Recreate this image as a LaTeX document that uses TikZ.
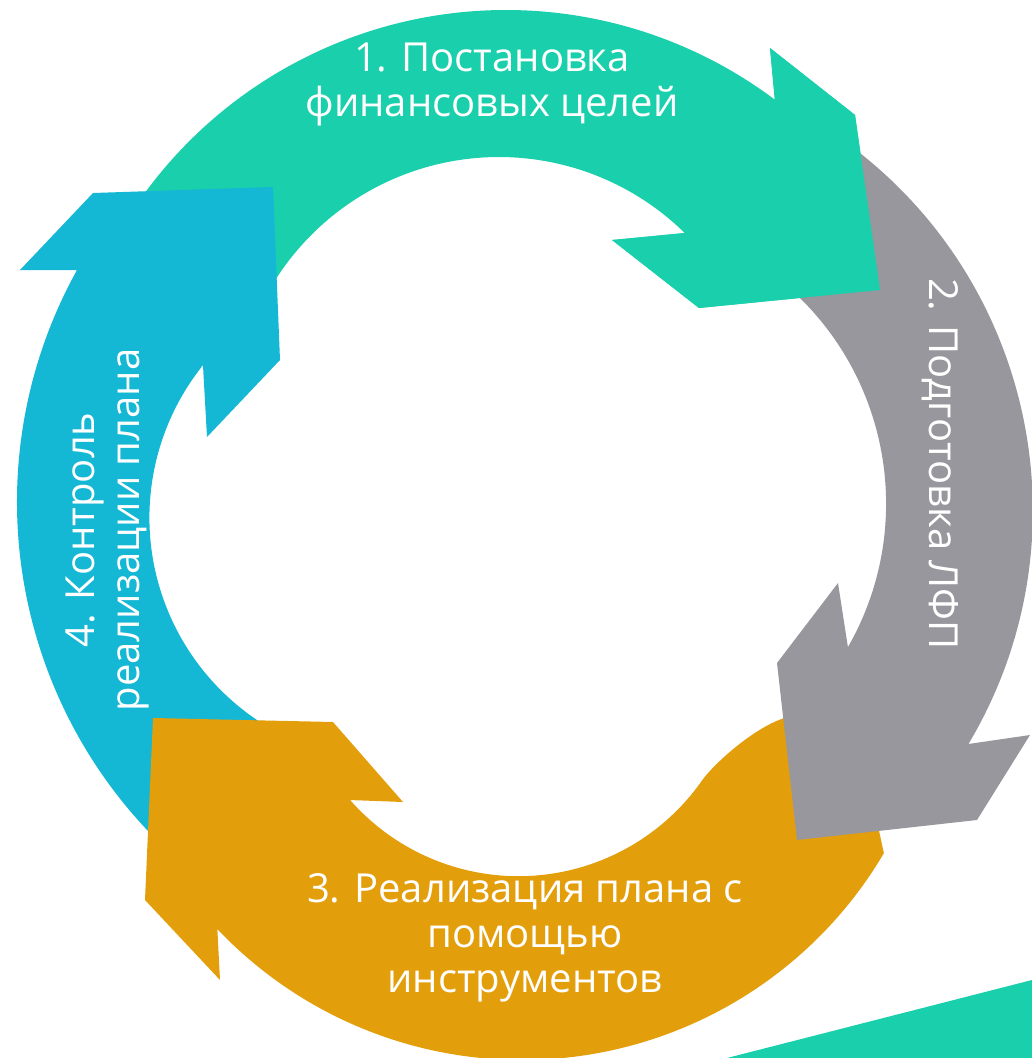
\documentclass[tikz,border=0pt]{standalone}
\usepackage{fontspec}
\setmainfont{Open Sans}
\usetikzlibrary{positioning}
\definecolor{stepteal}{RGB}{26,207,172}
\definecolor{stepgray}{RGB}{152,151,157}
\definecolor{steporange}{RGB}{227,158,12}
\definecolor{stepblue}{RGB}{20,183,212}

\begin{document}
\begin{tikzpicture}[x=1pt,y=-1pt,
    lbl/.style={text=white,align=center,inner sep=0pt,font=\fontsize{40}{45}\selectfont}]
    \useasboundingbox (0,0) rectangle (1032,1058);
    % teal arrow, its tail goes under the blue head
    \fill[stepteal] ([shift={(506,458)}]212:448) arc[start angle=212, end angle=306.9, radius=448]
      -- (770,48) -- (855,115) -- (880,290) -- (699,308) -- (612,240)
      -- ([shift={(499,422)}]314.5:265) arc[start angle=314.5, end angle=208, radius=265] -- cycle;
    \fill[stepblue] (20,270) -- (93,193) -- (273,187) -- (280,360) -- (207,437)
      -- ([shift={(393.4,517.7)}]218.7:244) arc[start angle=218.7, end angle=118, radius=244]
      -- ([shift={(495.5,502)}]133:478.5) arc[start angle=133, end angle=209, radius=478.5]
      -- cycle;
    \fill[steporange] (153,718) -- (333,722) -- (403,802)
      -- ([shift={(518.4,652.2)}]138.7:224) arc[start angle=138.7, end angle=35, radius=224]
      .. controls (714.5,762.7) and (760,722) .. (792,716) -- (878,826)
      -- ([shift={(522,640)}]30.5:420) arc[start angle=30.5, end angle=136.5, radius=420]
      -- (220,980) -- (145,900) -- cycle;
    \fill[stepgray] ([shift={(576.8,510.5)}]-53:456) arc[start angle=-53, end angle=30.8, radius=456]
      -- (1030,735) -- (977,820) -- (797,840) -- (777,663) -- (838,583)
      -- ([shift={(597.5,503.7)}]29.8:288.6) arc[start angle=29.8, end angle=-47, radius=288.6]
      -- cycle;
    % teal head again, over the gray tail
    \fill[stepteal] (774.7,99.6) -- (770,48) -- (855,115) -- (880,290) -- (699,308)
      -- (612,240) -- (684.8,233) -- cycle;
    \fill[stepteal] (727,1058) -- (1032,980) -- (1032,1058) -- cycle;
    \node[lbl] (goals) at (492,85) {1. Постановка\\финансовых целей};
    \node[lbl,rotate=-90] (lfp) at (940,464) {2. Подготовка ЛФП};
    \node[lbl] (tools) at (525,938) {3. Реализация плана с\\помощью\\инструментов};
    \node[lbl,rotate=90] (control) at (107,530) {4. Контроль\\реализации плана};
\end{tikzpicture}
\end{document}
